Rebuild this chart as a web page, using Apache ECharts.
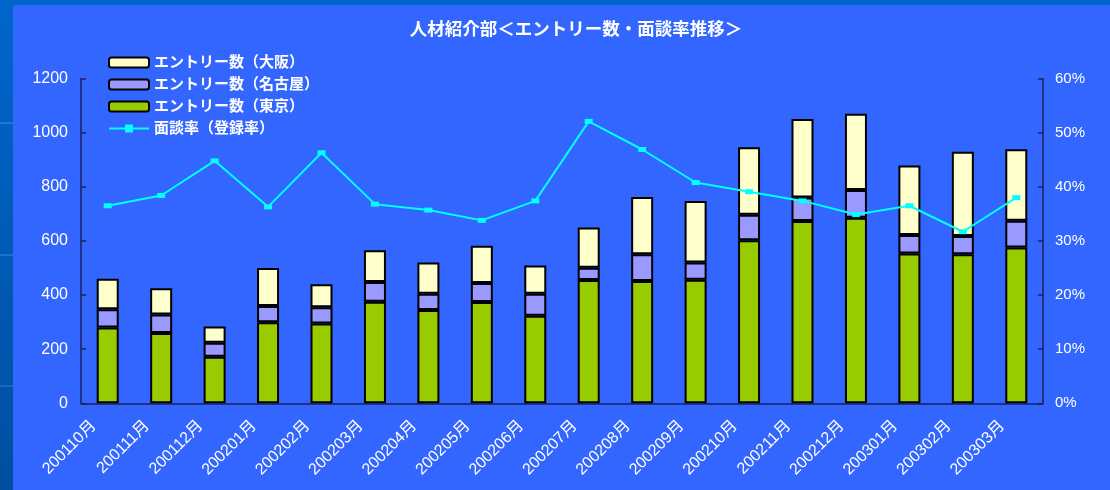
<!DOCTYPE html>
<html>
<head>
<meta charset="utf-8">
<script src="https://cdn.jsdelivr.net/npm/echarts@6/dist/echarts.min.js"></script>
<style>
html,body{margin:0;padding:0;background:#0060C8;}
#chart{width:1110px;height:490px;}
</style>
</head>
<body>
<div id="chart"></div>
<script>
const categories = ['200110月','200111月','200112月','200201月','200202月','200203月','200204月','200205月','200206月','200207月','200208月','200209月','200210月','200211月','200212月','200301月','200302月','200303月'];
const tokyo  = [280,260,172,300,295,375,345,374,324,456,452,457,603,674,686,554,551,576];
const nagoya = [68,68,52,60,60,73,60,71,81,45,99,63,94,87,102,68,67,99];
const osaka  = [112,97,60,140,85,118,115,137,104,149,211,228,249,290,282,257,312,264];
const rate   = [36.5,38.4,44.8,36.3,46.3,36.8,35.7,33.8,37.4,52.1,46.9,40.8,39.1,37.4,34.9,36.5,31.7,38.0];
const leftTicks = [0,200,400,600,800,1000,1200];
const rightTicks = [0,10,20,30,40,50,60];

const FONT = '"Liberation Sans", Arial, "Noto Sans CJK JP", sans-serif';
const chart = echarts.init(document.getElementById('chart'));
const axisColor = '#1e2258';
const barBorder = {borderColor:'#000000', borderWidth:2};

chart.setOption({
  backgroundColor: {
    type:'linear', x:0, y:0, x2:0, y2:1,
    colorStops:[{offset:0,color:'#0066CC'},{offset:1,color:'#004FA0'}]
  },
  graphic: [
    {type:'rect', shape:{x:13,y:5,width:1097,height:485}, style:{fill:'#3366FF'}, z:-10, silent:true},
    {type:'rect', shape:{x:0,y:122,width:13,height:2}, style:{fill:'#1A7AD6'}, z:-10, silent:true},
    {type:'rect', shape:{x:0,y:254,width:13,height:2}, style:{fill:'#1A72CC'}, z:-10, silent:true},
    {type:'rect', shape:{x:0,y:385,width:13,height:2}, style:{fill:'#1A68BE'}, z:-10, silent:true}
  ],
  title: {
    text: '人材紹介部＜エントリー数・面談率推移＞',
    left: 571, top: 16, textAlign: 'center',
    textStyle: {color:'#FFFFFF', fontSize:17.5, fontWeight:'bold', fontFamily: FONT}
  },
  legend: {
    orient:'vertical', left:103, top:50, itemWidth:40, itemHeight:10, itemGap:7,
    data:['エントリー数（大阪）','エントリー数（名古屋）','エントリー数（東京）','面談率（登録率）'],
    textStyle:{color:'#FFFFFF', fontSize:15, fontWeight:'bold', fontFamily: FONT, lineHeight:15}
  },
  grid: {left:81, right:67, top:78.6, bottom:86.7, containLabel:false},
  xAxis: {
    type:'category', data: categories, boundaryGap:true,
    axisLine:{lineStyle:{color:axisColor, width:1.5}},
    axisTick:{inside:true, length:5, lineStyle:{color:axisColor, width:1.5}},
    axisLabel:{color:'#FFFFFF', fontSize:16, fontFamily: FONT, rotate:45, margin:6, padding:[0,20,0,0]}
  },
  yAxis: [
    {type:'value', min:0, max:1200, interval:200,
     axisLine:{show:true, lineStyle:{color:axisColor, width:1.5}},
     axisTick:{show:true, inside:true, length:5, lineStyle:{color:axisColor, width:1.5}},
     splitLine:{show:false},
     axisLabel:{color:'#FFFFFF', fontSize:16, fontFamily: FONT, margin:13, formatter: v => String(v)}},
    {type:'value', min:0, max:60, interval:10, position:'right',
     axisLine:{show:true, lineStyle:{color:axisColor, width:1.5}},
     axisTick:{show:true, inside:true, length:5, lineStyle:{color:axisColor, width:1.5}},
     splitLine:{show:false},
     axisLabel:{color:'#FFFFFF', fontSize:15, fontFamily: FONT, margin:12, formatter:'{value}%'}}
  ],
  series: [
    {name:'エントリー数（東京）', type:'bar', stack:'e', data: tokyo, barWidth:22,
     itemStyle:Object.assign({color:'#99CC00'}, barBorder)},
    {name:'エントリー数（名古屋）', type:'bar', stack:'e', data: nagoya, barWidth:22,
     itemStyle:Object.assign({color:'#9999FF'}, barBorder)},
    {name:'エントリー数（大阪）', type:'bar', stack:'e', data: osaka, barWidth:22,
     itemStyle:Object.assign({color:'#FFFFCC'}, barBorder)},
    {name:'面談率（登録率）', type:'line', yAxisIndex:1, data: rate,
     symbol:'rect', symbolSize:[8,5], showSymbol:true,
     lineStyle:{color:'#00FFFF', width:2}, itemStyle:{color:'#00FFFF'}, z:5}
  ],
  animation:false
});
</script>
</body>
</html>
